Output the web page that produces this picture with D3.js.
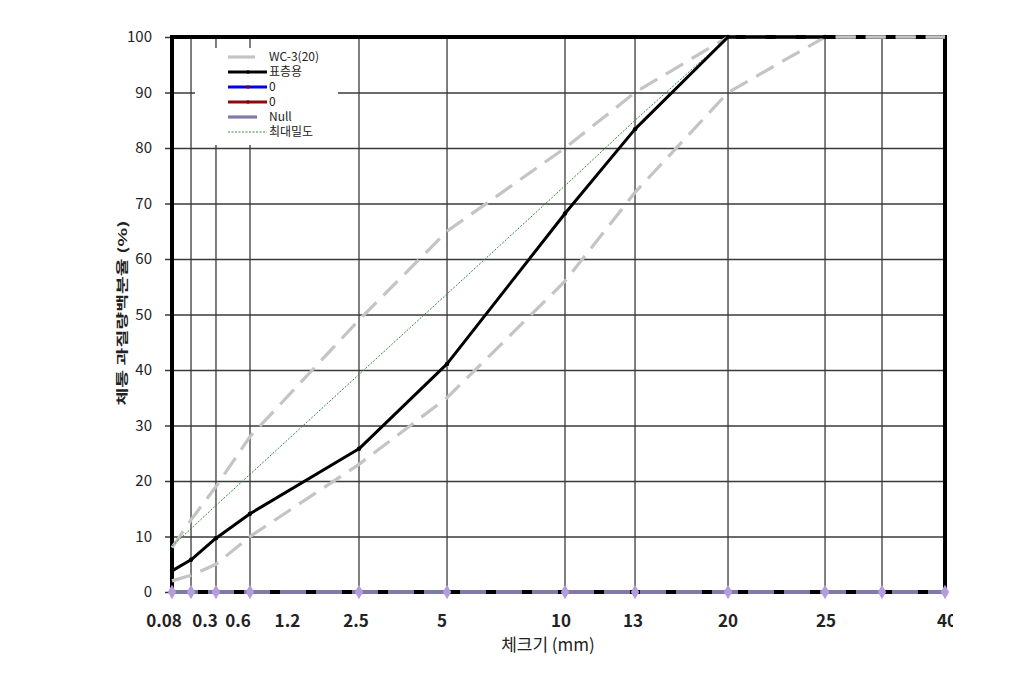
<!DOCTYPE html>
<html>
<head>
<meta charset="utf-8">
<script src="https://cdn.jsdelivr.net/npm/d3@7"></script>
<style>
  body { margin: 0; background: #fff; }
  svg { font-family: "Noto Sans CJK KR", "Noto Sans", sans-serif; }
</style>
</head>
<body>
<div id="chart"></div>
<script>
// sieve sizes (mm) that carry a grid line / point
var sieves = [0.08, 0.15, 0.3, 0.6, 2.5, 5, 10, 13, 20, 25, 30, 40];
// WC-3(20) gradation band
var wcUpper = [8, 13, 19, 28, 49, 65, 80, 90, 100, 100, 100, 100];
var wcLower = [2, 3, 5, 10, 23, 35, 56, 72, 90, 100, 100, 100];
// 표층용 mix
var surface = [3.8, 5.8, 9.7, 14.1, 25.8, 41.1, 68.2, 83.4, 100, 100, null, null];
// 최대밀도 line
var maxDensity = [8.3, 11.4, 15.6, 21.2, 39.2, 53.7, 73.2, 85, 100, null, null, null];
// series along the bottom
var nullSeries = [0, 0, 0, 0, 0, 0, 0, 0, 0, 0, 0, 0];

var yTicks = [0, 10, 20, 30, 40, 50, 60, 70, 80, 90, 100];
var xLabelValues = [0.08, 0.3, 0.6, 1.2, 2.5, 5, 10, 13, 20, 25, 40];
var xLabelText = ["0.08", "0.3", "0.6", "1.2", "2.5", "5", "10", "13", "20", "25", "40"];

// layout: where each sieve sits along the axis (fraction of width), label nudges
var xStops = [0, 0.0246, 0.0569, 0.1009, 0.2419, 0.3558, 0.5084, 0.599, 0.7193, 0.8448, 0.9185, 1];
var xLabelShift = [-8, -11, -12, 3, -3, -5, -4, -2, 0, 1, 2];

(function() {
  var marginLeft = 172, marginTop = 37, width = 773, height = 555;

  var svg = d3.select("#chart").append("svg")
      .attr("width", 1034)
      .attr("height", 675);

  var x = d3.scaleLinear()
      .domain(sieves)
      .range(xStops.map(function(f) { return f * width; }));

  var y = d3.scaleLinear()
      .domain([0, 100])
      .range([height, 0]);

  var g = svg.append("g")
      .attr("transform", "translate(" + marginLeft + "," + marginTop + ")");

  // horizontal grid + outer ticks
  g.append("g")
      .attr("transform", "translate(-7,0)")
      .call(d3.axisLeft(y).tickValues(yTicks).tickSize(-width - 7).tickFormat(""))
      .call(function(a) {
        a.select(".domain").remove();
        a.selectAll("line").attr("stroke", "#3a3a3a").attr("stroke-width", 1.3);
      });

  // y labels
  g.selectAll(".ylab")
      .data(yTicks)
    .enter().append("text")
      .attr("class", "ylab")
      .attr("x", -20)
      .attr("y", function(d) { return y(d); })
      .attr("dy", "0.35em")
      .attr("text-anchor", "end")
      .attr("font-size", 15)
      .attr("fill", "#222")
      .text(function(d) { return d; });

  // vertical grid at each sieve
  g.selectAll(".vgrid")
      .data(sieves)
    .enter().append("line")
      .attr("class", "vgrid")
      .attr("x1", function(d) { return x(d); })
      .attr("x2", function(d) { return x(d); })
      .attr("y1", 0)
      .attr("y2", height)
      .attr("stroke", "#3a3a3a")
      .attr("stroke-width", 1.3);

  // plot border
  g.append("rect")
      .attr("width", width)
      .attr("height", height)
      .attr("fill", "none")
      .attr("stroke", "#000")
      .attr("stroke-width", 4);

  function line(values) {
    return d3.line()
        .defined(function(d) { return d[1] != null; })
        .x(function(d) { return x(d[0]); })
        .y(function(d) { return y(d[1]); })(d3.zip(sieves, values));
  }

  // WC-3(20) band
  [wcUpper, wcLower].forEach(function(vals) {
    g.append("path")
        .attr("d", line(vals))
        .attr("fill", "none")
        .attr("stroke", "#c4c4c4")
        .attr("stroke-width", 3.2)
        .attr("stroke-dasharray", "20,10");
  });

  // 최대밀도
  g.append("path")
      .attr("d", line(maxDensity))
      .attr("fill", "none")
      .attr("stroke", "#2e8b3e")
      .attr("stroke-width", 1)
      .attr("stroke-dasharray", "2,1.5");

  // 표층용
  g.append("path")
      .attr("d", line(surface))
      .attr("fill", "none")
      .attr("stroke", "#000")
      .attr("stroke-width", 3)
      .attr("stroke-linejoin", "round");

  g.selectAll(".mk")
      .data(d3.zip(sieves, surface).filter(function(d) { return d[1] != null; }))
    .enter().append("circle")
      .attr("class", "mk")
      .attr("cx", function(d) { return x(d[0]); })
      .attr("cy", function(d) { return y(d[1]); })
      .attr("r", 2.2)
      .attr("fill", "#000");

  // Null series along the bottom
  g.append("path")
      .attr("d", line(nullSeries))
      .attr("fill", "none")
      .attr("stroke", "#7f7aa8")
      .attr("stroke-width", 4)
      .attr("stroke-dasharray", "26,10");

  g.selectAll(".dia")
      .data(d3.zip(sieves, nullSeries))
    .enter().append("path")
      .attr("class", "dia")
      .attr("transform", function(d) { return "translate(" + x(d[0]) + "," + y(d[1]) + ")"; })
      .attr("d", d3.symbol().type(d3.symbolDiamond).size(60))
      .attr("fill", "#b49ddc");

  // x labels, clipped at the right edge like the original
  g.append("clipPath").attr("id", "xclip")
    .append("rect")
      .attr("x", -marginLeft)
      .attr("y", height + 5)
      .attr("width", width + marginLeft + 8)
      .attr("height", 60);

  g.append("g")
      .attr("clip-path", "url(#xclip)")
    .selectAll("text")
      .data(xLabelValues)
    .enter().append("text")
      .attr("x", function(d, i) { return x(d) + xLabelShift[i]; })
      .attr("y", height + 35)
      .attr("text-anchor", "middle")
      .attr("font-size", 17)
      .attr("font-weight", "bold")
      .attr("fill", "#222")
      .text(function(d, i) { return xLabelText[i]; });

  svg.append("text")
      .attr("x", 548)
      .attr("y", 651)
      .attr("text-anchor", "middle")
      .attr("font-size", 17)
      .attr("fill", "#222")
      .text("체크기 (mm)");

  svg.append("text")
      .attr("transform", "translate(127,313)rotate(-90)")
      .attr("text-anchor", "middle")
      .attr("font-size", 12)
      .attr("font-weight", "bold")
      .attr("fill", "#222")
      .attr("textLength", 185)
      .attr("lengthAdjust", "spacingAndGlyphs")
      .text("체통 과질량백분율 (%)");

  // legend
  var legendItems = [
    { name: "WC-3(20)", color: "#c4c4c4", len: 27, dash: null, mark: null },
    { name: "표층용", color: "#000", len: 39, dash: null, mark: "#000" },
    { name: "0", color: "#0000ee", len: 39, dash: null, mark: "#8b0000" },
    { name: "0", color: "#8b0a0a", len: 39, dash: null, mark: "#8b0000" },
    { name: "Null", color: "#7f7aa8", len: 29, dash: null, mark: null },
    { name: "최대밀도", color: "#2e8b3e", len: 39, dash: "2,1.5", mark: null }
  ];

  var lg = svg.append("g");
  lg.append("rect")
      .attr("x", 195).attr("y", 48)
      .attr("width", 143).attr("height", 97)
      .attr("fill", "#fff");

  var rows = lg.selectAll(".row")
      .data(legendItems)
    .enter().append("g")
      .attr("transform", function(d, i) { return "translate(228," + (57 + i * 15) + ")"; });

  rows.append("line")
      .attr("x1", 0)
      .attr("x2", function(d) { return d.len; })
      .attr("stroke", function(d) { return d.color; })
      .attr("stroke-width", function(d) { return d.dash ? 1 : 3.2; })
      .attr("stroke-dasharray", function(d) { return d.dash; });

  rows.filter(function(d) { return d.mark; }).append("circle")
      .attr("cx", 20).attr("r", 1.8)
      .attr("fill", function(d) { return d.mark; });

  rows.append("text")
      .attr("x", 41)
      .attr("dy", "0.35em")
      .attr("font-size", 12)
      .attr("fill", "#222")
      .text(function(d) { return d.name; });
})();
</script>
</body>
</html>
